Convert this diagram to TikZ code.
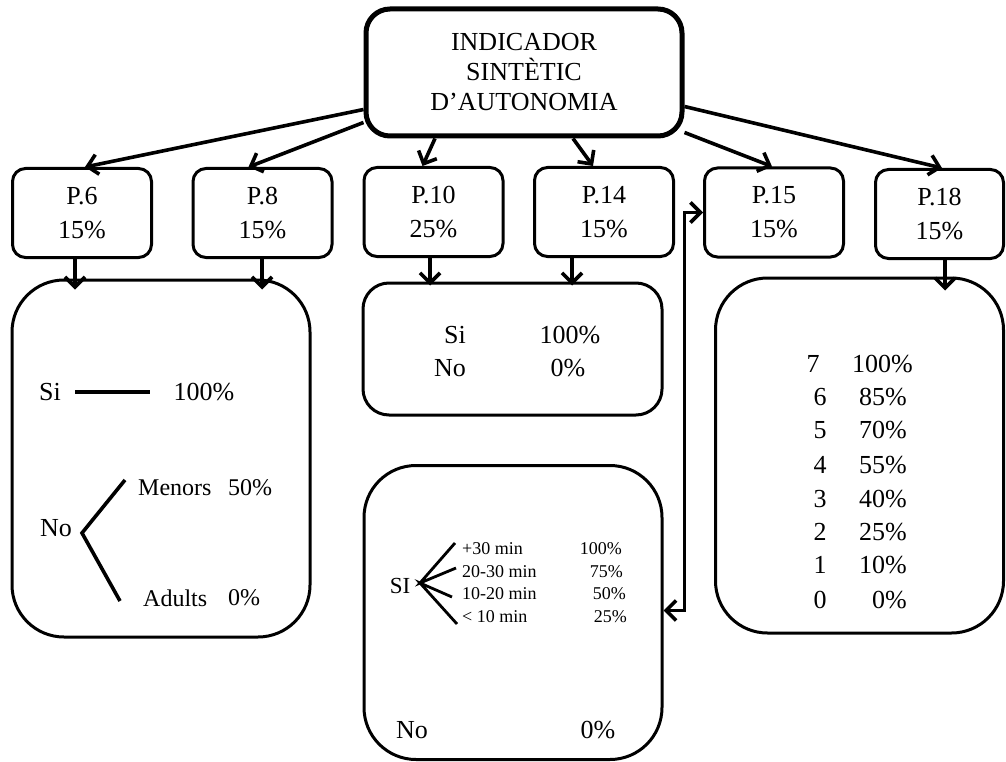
\documentclass[tikz,border=0pt]{standalone}
\usepackage{fontspec}
\setmainfont{Liberation Serif}
\usetikzlibrary{arrows.meta}
\begin{document}
\begin{tikzpicture}[x=1pt,y=-1pt,
  tip/.tip={Straight Barb[length=10pt,width=20pt,line width=3.6pt]},
  arr/.style={line width=3.6pt,-tip},
  dbl/.style={line width=3.4pt,tip-tip},
  pbox/.style={draw,line width=3pt,rounded corners=13pt,minimum width=139pt,minimum height=89pt,inner sep=0pt,align=center,font=\fontsize{26}{34}\selectfont},
  bigbox/.style={draw,line width=3pt,rounded corners=52pt,inner sep=0pt},
  txt/.style={inner sep=0pt,font=\fontsize{26}{30}\selectfont},
  mid/.style={inner sep=0pt,font=\fontsize{24}{28}\selectfont},
  small/.style={inner sep=0pt,font=\fontsize{18}{22}\selectfont},
  branch/.style={line width=3.6pt}]
\useasboundingbox (0,0) rectangle (1006,762);

% top node
\node[draw,line width=5pt,rounded corners=24pt,minimum width=316pt,minimum height=127pt,inner sep=0pt,align=center,font=\fontsize{26}{30}\selectfont] (top) at (524,72.5) {INDICADOR\\SINTÈTIC\\D’AUTONOMIA};

% P boxes
\node[pbox] (p6)  at (82,213)    {P.6\\15\%};
\node[pbox] (p8)  at (262.5,213) {P.8\\15\%};
\node[pbox] (p10) at (433.5,212) {P.10\\25\%};
\node[pbox] (p14) at (604,212)   {P.14\\15\%};
\node[pbox] (p15) at (774,212.5) {P.15\\15\%};
\node[pbox,minimum width=128pt] (p18) at (939.5,214) {P.18\\15\%};

% big boxes
\node[bigbox,minimum width=298pt,minimum height=357pt] (leftbox) at (161,458.5) {};
\node[bigbox,rounded corners=26pt,minimum width=299pt,minimum height=132pt] (midtop) at (512.5,349) {};
\node[bigbox,minimum width=298pt,minimum height=294pt] (midbot) at (513,612.5) {};
\node[bigbox,minimum width=288pt,minimum height=355pt] (rightbox) at (859.5,455.5) {};

% arrows from top
\draw[arr] ([yshift=-37pt]top.west) -- ([xshift=3pt]p6.north);
\draw[arr] ([yshift=-50pt]top.west) -- ([xshift=-14pt]p8.north);
\draw[arr] ([xshift=-89pt]top.south) -- ([xshift=-11pt]p10.north);
\draw[arr] ([xshift=49pt]top.south) -- ([xshift=-11pt]p14.north);
\draw[arr] ([yshift=-60pt]top.east) -- ([xshift=-2pt]p15.north);
\draw[arr] ([yshift=-34pt]top.east) -- ([xshift=2.5pt]p18.north);

% down arrows
\draw[arr] ([xshift=-7pt]p6.south) -- ([xshift=-86pt,yshift=-11pt]leftbox.north);
\draw[arr] ([xshift=-0.5pt]p8.south) -- ([xshift=101pt,yshift=-11pt]leftbox.north);
\draw[arr] ([xshift=-3.5pt]p10.south) -- ([xshift=-82.5pt,yshift=-4pt]midtop.north);
\draw[arr] ([xshift=-32pt]p14.south) -- ([xshift=59.5pt,yshift=-4pt]midtop.north);
\draw[arr] ([xshift=5.5pt]p18.south) -- ([xshift=85.5pt,yshift=-14pt]rightbox.north);

% double arrow P.15 <-> bottom middle box
\draw[dbl] ([yshift=2pt]midbot.east) -- ++(21,0) |- (p15.west);

% left box content
\node[txt] (lsi) at (50,392) {Si};
\draw[branch] (75,392) -- (150,392);
\node[txt] (l100) at (204,392) {100\%};
\node[txt] (lno) at (56,528) {No};
\draw[branch] (125,480) -- (82,533) -- (120,601);
\node[mid,anchor=west] (lmen) at (138,488) {Menors};
\node[mid,anchor=west] (l50) at (228,488) {50\%};
\node[mid,anchor=west] (ladu) at (143,598) {Adults};
\node[mid,anchor=west] (l0) at (228,598) {0\%};

% middle top box content
\node[txt] (msi) at (455,335) {Si};
\node[txt] (m100) at (570,335) {100\%};
\node[txt] (mno) at (450,368) {No};
\node[txt] (m0) at (568,368) {0\%};

% middle bottom box content
\node[inner sep=0pt,font=\fontsize{23}{27}\selectfont] (bsi) at (400,586) {SI};
\draw[line width=2.8pt] (455,543) -- (420,583) -- (456,568);
\draw[line width=2.8pt] (452,597) -- (420,583) -- (457,624);
\node[small,anchor=base west] (b1) at (462,554) {+30 min};
\node[small,anchor=base west] (b2) at (462,577) {20-30 min};
\node[small,anchor=base west] (b3) at (462,599) {10-20 min};
\node[small,anchor=base west] (b4) at (462,622) {< 10 min};
\node[small,anchor=base east] (c1) at (622,554) {100\%};
\node[small,anchor=base east] (c2) at (623,577) {75\%};
\node[small,anchor=base east] (c3) at (626,599) {50\%};
\node[small,anchor=base east] (c4) at (627,622) {25\%};
\node[txt] (bno) at (412,730) {No};
\node[txt] (b0) at (598,730) {0\%};

% right box content
\node[txt,anchor=base] (r7) at (813,372) {7};
\node[txt,anchor=base east] (q7) at (913,372) {100\%};
\node[txt,anchor=base] (r6) at (820,405) {6};
\node[txt,anchor=base east] (q6) at (907,405) {85\%};
\node[txt,anchor=base] (r5) at (820,438) {5};
\node[txt,anchor=base east] (q5) at (907,438) {70\%};
\node[txt,anchor=base] (r4) at (820,473) {4};
\node[txt,anchor=base east] (q4) at (907,473) {55\%};
\node[txt,anchor=base] (r3) at (820,507) {3};
\node[txt,anchor=base east] (q3) at (907,507) {40\%};
\node[txt,anchor=base] (r2) at (820,540) {2};
\node[txt,anchor=base east] (q2) at (907,540) {25\%};
\node[txt,anchor=base] (r1) at (820,573) {1};
\node[txt,anchor=base east] (q1) at (907,573) {10\%};
\node[txt,anchor=base] (r0) at (820,608) {0};
\node[txt,anchor=base east] (q0) at (907,608) {0\%};
\end{tikzpicture}
\end{document}
